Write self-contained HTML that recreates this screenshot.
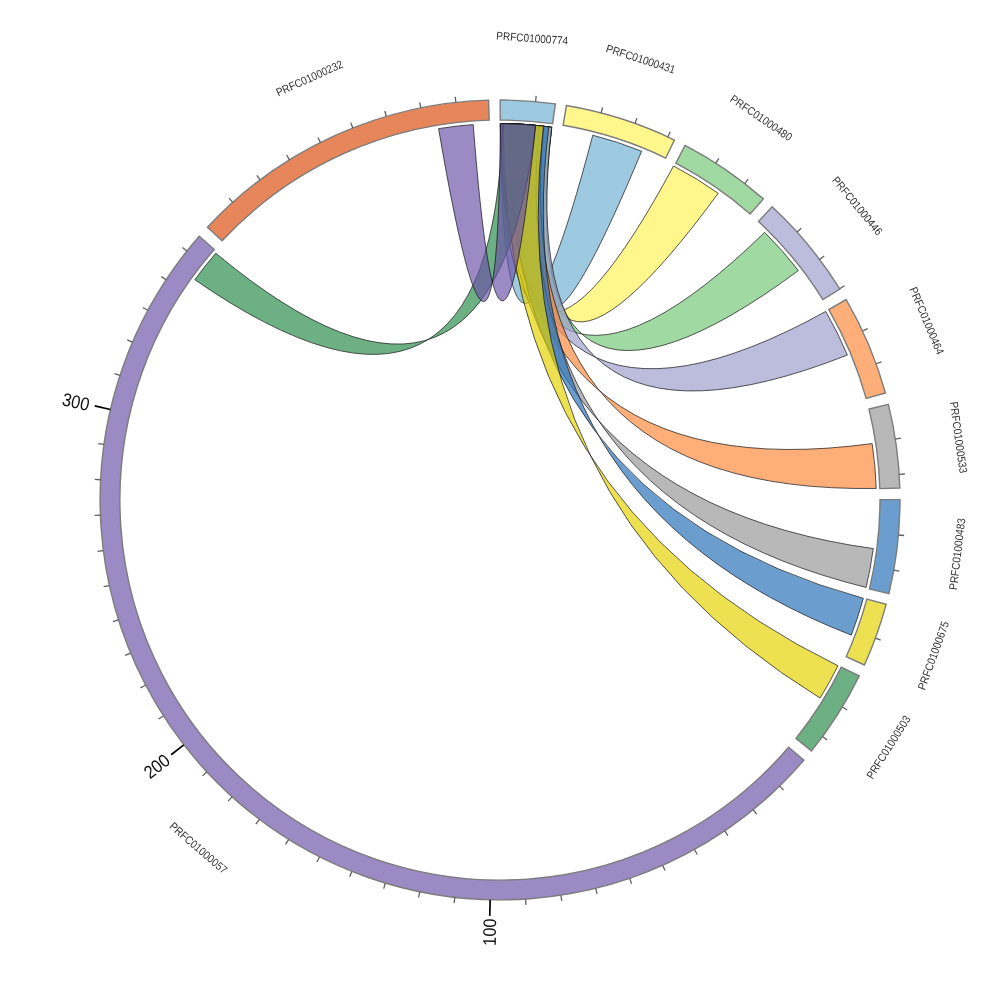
<!DOCTYPE html>
<html><head><meta charset="utf-8"><title>chord</title>
<style>html,body{margin:0;padding:0;background:#fff}svg{display:block}</style></head>
<body>
<svg width="1000" height="1000" viewBox="0 0 1000 1000">
<rect width="1000" height="1000" fill="#fff"/>
<g stroke="#111" stroke-width="0.7" stroke-linejoin="round" fill-rule="nonzero">
<path d="M592.78,135.21Q502.84,477.38 500.33,123.60A376.40,376.40 0 0 1 551.73,127.17Q505.90,477.98 641.61,151.25A376.40,376.40 0 0 0 592.78,135.21Z" fill="rgb(112,177,211)" fill-opacity="0.68"/>
<path d="M673.51,165.98Q505.08,479.26 500.33,123.60A376.40,376.40 0 0 1 551.73,127.17Q507.88,480.17 718.20,193.30A376.40,376.40 0 0 0 673.51,165.98Z" fill="rgb(255,243,86)" fill-opacity="0.68"/>
<path d="M764.66,232.36Q506.98,483.09 501.31,123.60A376.40,376.40 0 0 1 551.73,127.17Q509.19,484.20 798.42,270.60A376.40,376.40 0 0 0 764.66,232.36Z" fill="rgb(117,199,120)" fill-opacity="0.68"/>
<path d="M825.77,311.46Q507.41,487.28 503.28,123.61A376.40,376.40 0 0 1 551.73,127.17Q508.99,488.34 847.37,355.05A376.40,376.40 0 0 0 825.77,311.46Z" fill="rgb(156,156,204)" fill-opacity="0.68"/>
<path d="M872.15,443.58Q505.74,493.38 503.28,123.61A376.40,376.40 0 0 1 543.91,126.17Q506.32,494.20 876.22,488.44A376.40,376.40 0 0 0 872.15,443.58Z" fill="rgb(252,136,58)" fill-opacity="0.68"/>
<path d="M873.25,548.61Q503.08,497.30 500.33,123.60A376.40,376.40 0 0 1 539.34,125.66Q503.33,497.64 866.11,587.42A376.40,376.40 0 0 0 873.25,548.61Z" fill="rgb(151,151,151)" fill-opacity="0.68"/>
<path d="M863.34,598.31Q501.93,498.56 509.20,123.71A376.40,376.40 0 0 1 548.80,126.78Q502.10,498.75 851.31,635.13A376.40,376.40 0 0 0 863.34,598.31Z" fill="rgb(37,112,184)" fill-opacity="0.68"/>
<path d="M837.93,665.77Q499.63,500.23 503.28,123.61A376.40,376.40 0 0 1 543.39,126.11Q499.70,500.14 820.07,698.07A376.40,376.40 0 0 0 837.93,665.77Z" fill="rgb(229,211,0)" fill-opacity="0.68"/>
<path d="M194.79,279.72Q492.78,485.77 502.63,123.61A376.40,376.40 0 0 1 535.62,125.29Q494.06,485.16 215.80,253.21A376.40,376.40 0 0 0 194.79,279.72Z" fill="rgb(39,139,73)" fill-opacity="0.68"/>
<path d="M438.59,128.64Q498.12,476.98 500.33,123.60A376.40,376.40 0 0 1 535.62,125.29Q500.27,476.91 473.22,124.55A376.40,376.40 0 0 0 438.59,128.64Z" fill="rgb(108,83,168)" fill-opacity="0.68"/>
</g>
<g stroke="#7c7c7c" stroke-width="1.4" stroke-linejoin="miter">
<path d="M500.21,100.00A400.00,400.00 0 0 1 555.39,103.85L552.62,123.66A380.00,380.00 0 0 0 500.20,120.00Z" fill="rgb(158,202,225)"/>
<path d="M566.43,105.56A400.00,400.00 0 0 1 674.41,140.02L665.69,158.02A380.00,380.00 0 0 0 563.11,125.28Z" fill="rgb(255,247,140)"/>
<path d="M685.07,145.39A400.00,400.00 0 0 1 763.32,198.90L750.15,213.95A380.00,380.00 0 0 0 675.82,163.12Z" fill="rgb(161,217,163)"/>
<path d="M772.13,206.84A400.00,400.00 0 0 1 839.88,289.10L822.89,299.64A380.00,380.00 0 0 0 758.53,221.50Z" fill="rgb(188,188,220)"/>
<path d="M846.13,299.52A400.00,400.00 0 0 1 885.43,393.04L866.16,398.39A380.00,380.00 0 0 0 828.82,309.54Z" fill="rgb(253,174,121)"/>
<path d="M888.39,404.32A400.00,400.00 0 0 1 899.82,487.99L879.83,488.59A380.00,380.00 0 0 0 868.97,409.10Z" fill="rgb(184,184,184)"/>
<path d="M900.00,499.58A400.00,400.00 0 0 1 888.90,593.58L869.45,588.90A380.00,380.00 0 0 0 880.00,499.60Z" fill="rgb(107,158,207)"/>
<path d="M886.15,604.34A400.00,400.00 0 0 1 864.39,664.99L846.17,656.74A380.00,380.00 0 0 0 866.85,599.12Z" fill="rgb(237,225,81)"/>
<path d="M859.24,675.91A400.00,400.00 0 0 1 811.52,750.91L795.94,738.37A380.00,380.00 0 0 0 841.28,667.12Z" fill="rgb(108,176,131)"/>
<path d="M803.80,760.20A400.00,400.00 0 1 1 199.26,236.26L214.30,249.45A380.00,380.00 0 1 0 788.61,747.19Z" fill="rgb(155,138,196)"/>
<path d="M207.46,227.20A400.00,400.00 0 0 1 488.62,100.16L489.19,120.15A380.00,380.00 0 0 0 222.09,240.84Z" fill="rgb(230,134,90)"/>
</g>
<path d="M535.65,101.59L536.16,95.91M601.12,112.99L602.56,107.48M635.01,123.47L636.93,118.11M667.84,136.92L670.23,131.74M715.76,163.18L718.84,158.38M744.75,183.62L748.24,179.11M797.04,232.10L801.27,228.29M819.61,259.47L824.16,256.05M839.66,288.74L844.50,285.73M862.53,330.97L867.70,328.56M876.08,363.76L881.44,361.81M895.34,439.10L900.97,438.23M899.18,474.37L904.87,474.00M898.46,535.02L904.14,535.52M893.79,570.19L899.41,571.19M875.39,638.14L880.74,640.11M842.24,707.05L847.12,710.00M822.55,736.56L827.15,739.93M779.55,786.10L783.53,790.17M753.10,809.74L756.71,814.15M724.67,830.95L727.87,835.66M694.46,849.55L697.23,854.53M662.73,865.40L665.05,870.61M629.71,878.38L631.56,883.78M595.68,888.39L597.04,893.92M560.89,895.34L561.76,900.97M525.62,899.18L525.99,904.87M454.77,897.43L454.12,903.10M419.73,891.86L418.59,897.45M385.33,883.21L383.70,888.67M351.83,871.54L349.72,876.84M319.49,856.96L316.92,862.04M288.58,839.56L285.56,844.40M259.32,819.49L255.89,824.04M231.96,796.91L228.14,801.14M206.71,772.00L202.53,775.87M163.31,715.96L158.51,719.04M145.50,685.28L140.45,687.92M130.48,653.14L125.21,655.33M118.36,619.80L112.92,621.51M109.25,585.52L103.68,586.74M103.21,550.56L97.55,551.28M100.29,515.21L94.59,515.43M100.51,479.73L94.82,479.45M103.88,444.42L98.24,443.63M119.91,375.38L114.49,373.60M132.44,342.19L127.21,339.94M147.87,310.25L142.85,307.54M166.07,279.80L161.31,276.66M186.89,251.08L182.43,247.53M232.78,202.35L228.97,198.11M260.20,179.85L256.78,175.29M289.51,159.86L286.51,155.02M320.47,142.55L317.91,137.46M352.85,128.05L350.75,122.75M386.38,116.48L384.76,111.01M420.81,107.92L419.68,102.33M455.86,102.44L455.23,96.78" stroke="#5f5f5f" stroke-width="1.3" fill="none"/>
<path d="M490.16,899.88L489.76,915.87M183.77,744.94L171.12,754.74M110.36,409.54L94.78,405.93" stroke="#000" stroke-width="1.7" fill="none"/>
<g font-family="'Liberation Sans', Arial, Helvetica, sans-serif" font-size="18.3" fill="#111" text-anchor="middle">
<text transform="translate(489.36 932.17) rotate(271.41) scale(0.89 1)" x="0" y="6.6">100</text>
<text transform="translate(156.65 765.95) rotate(322.24) scale(0.89 1)" x="0" y="6.6">200</text>
<text transform="translate(75.98 401.56) rotate(373.07) scale(0.89 1)" x="0" y="6.6">300</text>
</g>
<g font-family="'Liberation Sans', Arial, Helvetica, sans-serif" font-size="11.3" fill="#333" text-anchor="middle">
<text transform="translate(532.26 38.13) rotate(4.00) scale(0.89 1)" x="0" y="4.0">PRFC01000774</text>
<text transform="translate(640.81 58.93) rotate(17.71) scale(0.89 1)" x="0" y="4.0">PRFC01000431</text>
<text transform="translate(761.35 117.81) rotate(34.37) scale(0.89 1)" x="0" y="4.0">PRFC01000480</text>
<text transform="translate(857.39 205.65) rotate(50.52) scale(0.89 1)" x="0" y="4.0">PRFC01000446</text>
<text transform="translate(926.84 320.62) rotate(67.20) scale(0.89 1)" x="0" y="4.0">PRFC01000464</text>
<text transform="translate(958.74 437.32) rotate(82.22) scale(0.89 1)" x="0" y="4.0">PRFC01000533</text>
<text transform="translate(957.12 553.98) rotate(276.74) scale(0.89 1)" x="0" y="4.0">PRFC01000483</text>
<text transform="translate(933.25 655.47) rotate(289.74) scale(0.89 1)" x="0" y="4.0">PRFC01000675</text>
<text transform="translate(888.34 747.12) rotate(302.47) scale(0.89 1)" x="0" y="4.0">PRFC01000503</text>
<text transform="translate(198.53 847.84) rotate(400.92) scale(0.89 1)" x="0" y="4.0">PRFC01000057</text>
<text transform="translate(309.36 78.07) rotate(335.69) scale(0.89 1)" x="0" y="4.0">PRFC01000232</text>
</g>
</svg>
</body></html>
